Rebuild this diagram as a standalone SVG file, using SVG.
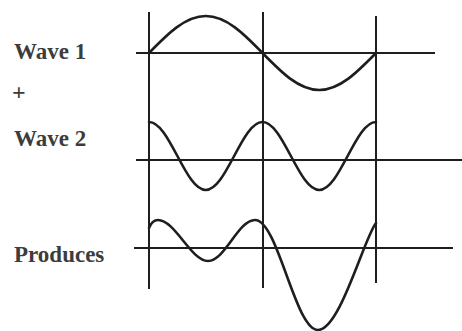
<svg xmlns="http://www.w3.org/2000/svg" width="462" height="331" viewBox="0 0 462 331">
  <style>
    .ln { stroke: #1e1e1e; stroke-width: 2; fill: none; }
    .wv { stroke: #1e1e1e; stroke-width: 2.6; fill: none; stroke-linecap: round; stroke-linejoin: round; }
    .lbl { font-family: "Liberation Serif", "Times New Roman", serif; font-size: 23px; font-weight: bold; fill: #3c3c3c; }
  </style>
  <rect width="462" height="331" fill="#ffffff"/>
  <g id="labels">
    <text class="lbl" x="14" y="59">Wave 1</text>
    <text class="lbl" x="12" y="100" style="font-size:24px">+</text>
    <text class="lbl" x="14" y="146">Wave 2</text>
    <text class="lbl" x="14" y="262">Produces</text>
  </g>
  <g id="grid">
    <line class="ln" x1="149" y1="12" x2="149" y2="289"/>
    <line class="ln" x1="263" y1="12" x2="263" y2="288"/>
    <line class="ln" x1="376" y1="16" x2="376" y2="283"/>
    <line class="ln" x1="136" y1="53" x2="435" y2="53"/>
    <line class="ln" x1="136" y1="160" x2="462" y2="160"/>
    <line class="ln" x1="134" y1="248" x2="453" y2="248"/>
  </g>
  <g id="wave1">
    <path class="wv" d="M149,53 C167.51,34.04 185.21,16 205.75,16 S243.99,34.04 262.5,53 S298.71,90 319.25,90 S357.49,71.96 376,53"/>
  </g>
  <g id="wave2">
    <path class="wv" d="M149,122 C159.27,122 168.12,138.58 177.38,156 S195.48,190 205.75,190 S224.88,173.42 234.13,156 S252.23,122 262.5,122 S281.62,138.58 290.88,156 S308.98,190 319.25,190 S338.38,173.42 347.63,156 S365.73,122 376,122"/>
  </g>
  <g id="produces">
    <path class="wv" d="M149,228 C151,223 154,220 158,220 C175,220 191,261 208,261 C225,261 238,220 255,220 C278,220 295,330 318,330 C340,330 364,238 376,223"/>
  </g>
</svg>
